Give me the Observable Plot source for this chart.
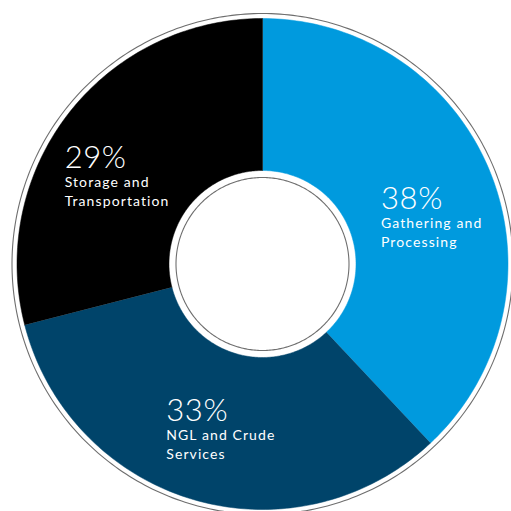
<!DOCTYPE html>
<html>
<head>
<meta charset="utf-8">
<script src="https://cdn.jsdelivr.net/npm/d3@7"></script>
<script src="https://cdn.jsdelivr.net/npm/@observablehq/plot@0.6"></script>
<style>
  html, body { margin: 0; padding: 0; background: #fff; }
  g[aria-description="category-label"] text { letter-spacing: 1.1px; }
  g[aria-description="share-label"] text { letter-spacing: 0.6px; }
</style>
</head>
<body>
<div id="chart"></div>
<script>
// ---- data ----
const categories = ["Gathering and Processing", "NGL and Crude Services", "Storage and Transportation"];
const shares = [38, 33, 29];
const labelLines = [["Gathering and", "Processing"], ["NGL and Crude", "Services"], ["Storage and", "Transportation"]];
const colors = ["#009ADE", "#00446A", "#000000"];

// ---- layout (pixels / relative radii) ----
const W = 511, H = 511, CX = 262, CY = 263.5, R = 245.5;
const rInner = 93.5 / R, rOuterLine = 250.5 / R, rInnerLine = 86.5 / R, rLabel = 0.69;
const labelOffset = [[-39, 7], [-49, -6], [-64, 8]];

const pie = d3.pie().sort(null).value(d => d)(shares);

// slice polygons (unit coordinates, y up)
const slicePts = [];
pie.forEach((p, i) => {
  const n = 120;
  for (let k = 0; k <= n; k++) {
    const a = p.startAngle + (p.endAngle - p.startAngle) * k / n;
    slicePts.push({cat: categories[i], x: Math.sin(a), y: Math.cos(a)});
  }
  for (let k = n; k >= 0; k--) {
    const a = p.startAngle + (p.endAngle - p.startAngle) * k / n;
    slicePts.push({cat: categories[i], x: rInner * Math.sin(a), y: rInner * Math.cos(a)});
  }
});

const ringPts = [];
[["outer", rOuterLine], ["inner", rInnerLine]].forEach(([id, r]) => {
  for (let k = 0; k <= 360; k++) {
    const a = k * Math.PI / 180;
    ringPts.push({id, x: r * Math.sin(a), y: r * Math.cos(a)});
  }
});

const labels = pie.map((p, i) => {
  const a = (p.startAngle + p.endAngle) / 2;
  return {
    cat: categories[i],
    x: rLabel * Math.sin(a), y: rLabel * Math.cos(a),
    pct: shares[i] + "%", l1: labelLines[i][0], l2: labelLines[i][1],
    dx: labelOffset[i][0], dy: labelOffset[i][1]
  };
});

const textMarks = labels.flatMap(d => [
  Plot.text([d], {x: "x", y: "y", text: "pct", dx: d.dx, dy: d.dy, textAnchor: "start", lineAnchor: "bottom",
    fill: "white", fontSize: 31, fontWeight: 300, ariaDescription: "share-label"}),
  Plot.text([d], {x: "x", y: "y", text: "l1", dx: d.dx, dy: d.dy + 19, textAnchor: "start", lineAnchor: "bottom",
    fill: "white", fontSize: 14, fontWeight: 400, ariaDescription: "category-label"}),
  Plot.text([d], {x: "x", y: "y", text: "l2", dx: d.dx, dy: d.dy + 38, textAnchor: "start", lineAnchor: "bottom",
    fill: "white", fontSize: 14, fontWeight: 400, ariaDescription: "category-label"})
]);

const chart = Plot.plot({
  width: W, height: H,
  margin: 0,
  style: {fontFamily: "Lato, sans-serif", background: "white"},
  x: {domain: [-CX / R, (W - CX) / R], range: [0, W], axis: null},
  y: {domain: [-(H - CY) / R, CY / R], range: [H, 0], axis: null},
  color: {domain: categories, range: colors},
  marks: [
    Plot.line(slicePts, {x: "x", y: "y", z: "cat", fill: "cat", stroke: "cat", strokeWidth: 0.5}),
    Plot.line(ringPts, {x: "x", y: "y", z: "id", stroke: "#6e6e6e", strokeWidth: 1.1, fill: "none"}),
    ...textMarks
  ]
});
document.getElementById("chart").appendChild(chart);
</script>
</body>
</html>
